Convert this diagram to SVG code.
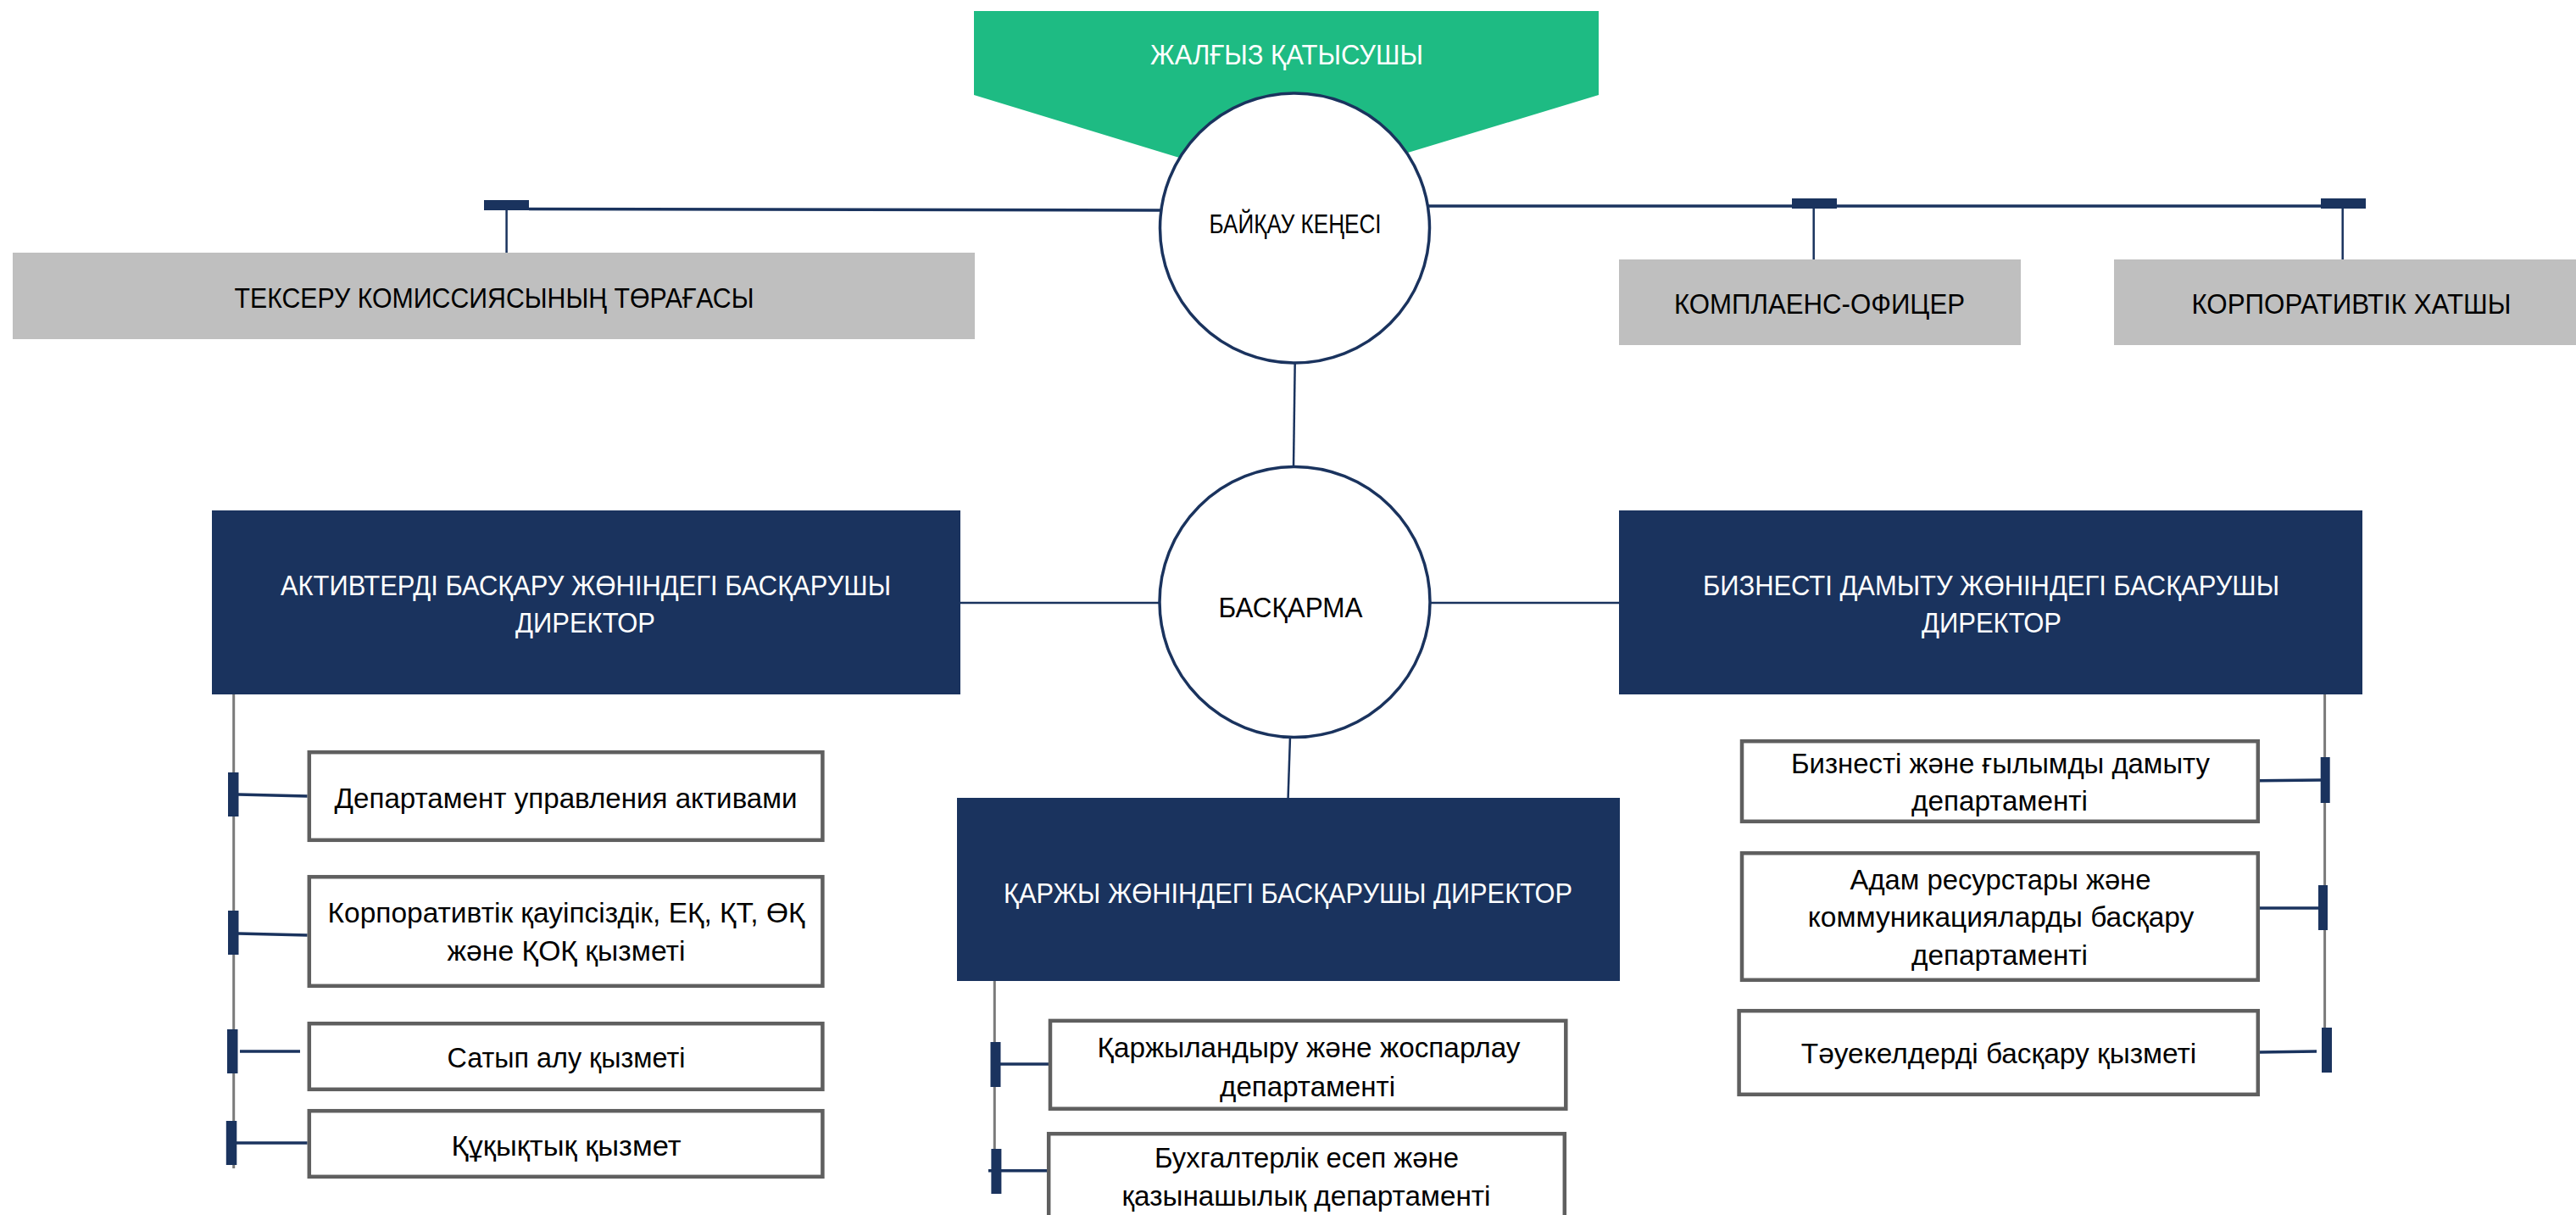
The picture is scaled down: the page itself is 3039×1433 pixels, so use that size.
<svg xmlns="http://www.w3.org/2000/svg" width="3039" height="1433" viewBox="0 0 3039 1433">
<style>
text{font-family:"Liberation Sans","Noto Sans",sans-serif;text-anchor:middle;}
.t34{font-size:34px;}
.w{fill:#ffffff;}
.k{fill:#000000;}
.gray{fill:#bfbfbf;}
.navy{fill:#1a335e;}
.green{fill:#1ebb83;}
.circ{fill:#ffffff;stroke:#1a335e;stroke-width:3.5;}
.box{fill:#ffffff;stroke:#5f5f5f;stroke-width:4.5;}
.ln{stroke:#1a335e;stroke-width:3.5;fill:none;}
.ln2{stroke:#1a335e;stroke-width:2.5;fill:none;}
.trunk{stroke:#7a7a7a;stroke-width:3;fill:none;}
.tick{fill:#1a335e;}
</style>
<rect x="0" y="0" width="3039" height="1433" fill="#ffffff"/>

<g id="node-sole-participant">
<polygon class="green" points="1149,13 1886,13 1886,112 1661,180 1517,224 1388,185 1149,112"/>
<text class="w t34" x="1518" y="76" textLength="322" lengthAdjust="spacingAndGlyphs">ЖАЛҒЫЗ ҚАТЫСУШЫ</text>
</g>

<g id="connectors">
<!-- supervisory board to side boxes -->
<line class="ln" x1="624" y1="246.5" x2="1370" y2="248"/>
<rect class="tick" x="571" y="236" width="53" height="12"/>
<line class="ln2" x1="597.6" y1="248" x2="597.6" y2="298"/>
<line class="ln" x1="1685" y1="243" x2="2791" y2="243"/>
<rect class="tick" x="2114" y="234" width="53" height="12"/>
<line class="ln2" x1="2139.7" y1="246" x2="2139.7" y2="306"/>
<rect class="tick" x="2738" y="234" width="53" height="12"/>
<line class="ln2" x1="2763.7" y1="246" x2="2763.7" y2="306"/>
<!-- board to management board -->
<line class="ln2" x1="1527.7" y1="428" x2="1526" y2="551"/>
<line class="ln2" x1="1133" y1="711" x2="1368" y2="711"/>
<line class="ln2" x1="1687" y1="711" x2="1910" y2="711"/>
<line class="ln2" x1="1522" y1="869" x2="1519.6" y2="941"/>
<!-- left trunk -->
<line class="trunk" x1="275.7" y1="819" x2="275.7" y2="1378"/>
<line class="ln" x1="281" y1="937" x2="362.6" y2="939"/>
<line class="ln" x1="281" y1="1101" x2="362.6" y2="1103"/>
<line class="ln" x1="283" y1="1240" x2="354" y2="1240"/>
<line class="ln" x1="279" y1="1348" x2="362.6" y2="1348"/>
<rect class="tick" x="269" y="911" width="12.5" height="52"/>
<rect class="tick" x="269" y="1074" width="12.5" height="52"/>
<rect class="tick" x="268" y="1214" width="12.5" height="52"/>
<rect class="tick" x="266.8" y="1322" width="12.5" height="52"/>
<!-- centre trunk -->
<line class="trunk" x1="1173.3" y1="1157" x2="1173.3" y2="1355"/>
<line class="ln" x1="1180" y1="1255" x2="1237" y2="1255"/>
<line class="ln" x1="1166" y1="1380.7" x2="1235" y2="1380.7"/>
<rect class="tick" x="1168.5" y="1229" width="12" height="53"/>
<rect class="tick" x="1169.4" y="1355" width="12" height="53"/>
<!-- right trunk -->
<line class="trunk" x1="2742.6" y1="819" x2="2742.6" y2="1212"/>
<line class="ln" x1="2666" y1="920.7" x2="2738" y2="920"/>
<line class="ln" x1="2661.6" y1="1071" x2="2735" y2="1071"/>
<line class="ln" x1="2666" y1="1241" x2="2733" y2="1240"/>
<rect class="tick" x="2737.7" y="893" width="11" height="54"/>
<rect class="tick" x="2735" y="1044" width="11" height="53"/>
<rect class="tick" x="2739" y="1212" width="12" height="53"/>
</g>

<g id="node-supervisory-board">
<circle class="circ" cx="1527.5" cy="269" r="159"/>
<text class="k" x="1528" y="275" font-size="31" textLength="203" lengthAdjust="spacingAndGlyphs">БАЙҚАУ КЕҢЕСІ</text>
</g>

<g id="node-audit-chair">
<rect class="gray" x="15" y="298" width="1135" height="102"/>
<text class="k t34" x="583" y="363" textLength="613" lengthAdjust="spacingAndGlyphs">ТЕКСЕРУ КОМИССИЯСЫНЫҢ ТӨРАҒАСЫ</text>
</g>

<g id="node-compliance">
<rect class="gray" x="1910" y="306" width="474" height="101"/>
<text class="k t34" x="2146.5" y="370" textLength="343" lengthAdjust="spacingAndGlyphs">КОМПЛАЕНС-ОФИЦЕР</text>
</g>

<g id="node-secretary">
<rect class="gray" x="2494" y="306" width="545" height="101"/>
<text class="k t34" x="2774" y="370" textLength="377" lengthAdjust="spacingAndGlyphs">КОРПОРАТИВТІК ХАТШЫ</text>
</g>

<g id="node-management-board">
<circle class="circ" cx="1527.5" cy="710" r="159.5"/>
<text class="k t34" x="1522.5" y="728" textLength="170" lengthAdjust="spacingAndGlyphs">БАСҚАРМА</text>
</g>

<g id="node-asset-director">
<rect class="navy" x="250" y="602" width="883" height="217"/>
<text class="w t34" x="691" y="702" textLength="720" lengthAdjust="spacingAndGlyphs">АКТИВТЕРДІ БАСҚАРУ ЖӨНІНДЕГІ БАСҚАРУШЫ</text>
<text class="w t34" x="690.5" y="746" textLength="165" lengthAdjust="spacingAndGlyphs">ДИРЕКТОР</text>
</g>

<g id="node-business-director">
<rect class="navy" x="1910" y="602" width="877" height="217"/>
<text class="w t34" x="2349" y="702" textLength="680" lengthAdjust="spacingAndGlyphs">БИЗНЕСТІ ДАМЫТУ ЖӨНІНДЕГІ БАСҚАРУШЫ</text>
<text class="w t34" x="2349.5" y="746" textLength="165" lengthAdjust="spacingAndGlyphs">ДИРЕКТОР</text>
</g>

<g id="node-finance-director">
<rect class="navy" x="1129" y="941" width="782" height="216"/>
<text class="w t34" x="1519.5" y="1065" textLength="671" lengthAdjust="spacingAndGlyphs">ҚАРЖЫ ЖӨНІНДЕГІ БАСҚАРУШЫ ДИРЕКТОР</text>
</g>

<g id="node-asset-dept">
<rect class="box" x="364.8" y="887.2" width="605.6" height="103.6"/>
<text class="k t34" x="667.6" y="953" textLength="546" lengthAdjust="spacingAndGlyphs">Департамент управления активами</text>
</g>

<g id="node-security">
<rect class="box" x="364.8" y="1034.2" width="605.6" height="128.6"/>
<text class="k t34" x="668" y="1088" textLength="563" lengthAdjust="spacingAndGlyphs">Корпоративтік қауіпсіздік, ЕҚ, ҚТ, ӨҚ</text>
<text class="k t34" x="668" y="1132.5" textLength="281" lengthAdjust="spacingAndGlyphs">және ҚОҚ қызметі</text>
</g>

<g id="node-procurement">
<rect class="box" x="364.8" y="1207.2" width="605.6" height="77.6"/>
<text class="k t34" x="668" y="1259" textLength="281" lengthAdjust="spacingAndGlyphs">Сатып алу қызметі</text>
</g>

<g id="node-legal">
<rect class="box" x="364.8" y="1310.2" width="605.6" height="77.6"/>
<text class="k t34" x="668" y="1363" textLength="271" lengthAdjust="spacingAndGlyphs">Құқықтық қызмет</text>
</g>

<g id="node-finance-planning">
<rect class="box" x="1239" y="1203.9" width="608.3" height="103.8"/>
<text class="k t34" x="1544" y="1246.7" textLength="499" lengthAdjust="spacingAndGlyphs">Қаржыландыру және жоспарлау</text>
<text class="k t34" x="1542.6" y="1293" textLength="207" lengthAdjust="spacingAndGlyphs">департаменті</text>
</g>

<g id="node-accounting">
<rect class="box" x="1237.2" y="1337.2" width="608.6" height="120"/>
<text class="k t34" x="1541.5" y="1376.7" textLength="359" lengthAdjust="spacingAndGlyphs">Бухгалтерлік есеп және</text>
<text class="k t34" x="1541" y="1421.7" textLength="435" lengthAdjust="spacingAndGlyphs">қазынашылық департаменті</text>
</g>

<g id="node-business-science">
<rect class="box" x="2055" y="874.2" width="608.8" height="94.6"/>
<text class="k t34" x="2360" y="911.7" textLength="494" lengthAdjust="spacingAndGlyphs">Бизнесті және ғылымды дамыту</text>
<text class="k t34" x="2359" y="956" textLength="208" lengthAdjust="spacingAndGlyphs">департаменті</text>
</g>

<g id="node-hr">
<rect class="box" x="2055" y="1006.2" width="608.8" height="149.6"/>
<text class="k t34" x="2360" y="1049" textLength="355" lengthAdjust="spacingAndGlyphs">Адам ресурстары және</text>
<text class="k t34" x="2360.6" y="1093" textLength="455.6" lengthAdjust="spacingAndGlyphs">коммуникацияларды басқару</text>
<text class="k t34" x="2359" y="1138" textLength="208" lengthAdjust="spacingAndGlyphs">департаменті</text>
</g>

<g id="node-risk">
<rect class="box" x="2051.6" y="1192.2" width="612.2" height="98.6"/>
<text class="k t34" x="2358" y="1254" textLength="466.5" lengthAdjust="spacingAndGlyphs">Тәуекелдерді басқару қызметі</text>
</g>
</svg>
